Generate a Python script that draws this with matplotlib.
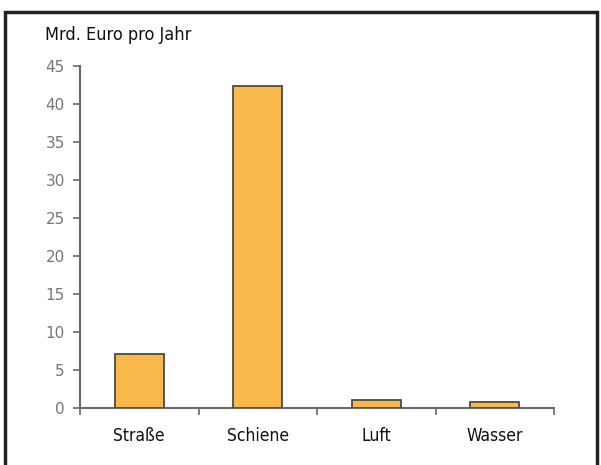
import matplotlib
matplotlib.use("Agg")
import matplotlib.pyplot as plt
from matplotlib.patches import Rectangle
import numpy as np

categories = ["Straße", "Schiene", "Luft", "Wasser"]
values = [7.1, 42.4, 1.0, 0.8]
yticks = [0, 5, 10, 15, 20, 25, 30, 35, 40, 45]
title = "Mrd. Euro pro Jahr"

plt.rcParams['font.family'] = ['DejaVu Sans', 'Liberation Sans']

fig = plt.figure(figsize=(6.01, 4.65), dpi=100)
W, H = 601, 465
ax = fig.add_axes([80 / W, 1 - 408 / H, (554 - 80) / W, (408 - 66) / H])

x = np.arange(len(categories))
ax.bar(x, values, width=0.41, color="#F9B84A", edgecolor="#4a4a4a", linewidth=1.3, zorder=3)
ax.set_xlim(-0.5, len(categories) - 0.5)
ax.set_ylim(0, 45)
ax.set_yticks(yticks)
ax.set_yticklabels([str(v) for v in yticks], color="#777777", fontsize=11)

ax.set_xticks(np.arange(-0.5, len(categories), 1.0))
ax.set_xticklabels([])
ax.set_xticks(x, minor=True)
ax.set_xticklabels(categories, minor=True, fontsize=12.5, color="#111111",
                   fontstretch='condensed')
ax.tick_params(axis="x", which="minor", length=0, pad=14)
ax.tick_params(axis="x", which="major", length=5, width=1.2, color="#6a6a6a", direction="out")
ax.tick_params(axis="y", length=5, width=1.2, color="#6a6a6a", direction="out", pad=6)

for s in ["top", "right"]:
    ax.spines[s].set_visible(False)
for s in ["left", "bottom"]:
    ax.spines[s].set_color("#6a6a6a")
    ax.spines[s].set_linewidth(1.5)

fig.text(45 / W, 1 - 35 / H, title, fontsize=13, color="#111111", va="center", ha="left",
         fontstretch='condensed')

border = Rectangle((5 / W, -0.05), (597 - 5) / W, (1 - 12 / H) + 0.05, transform=fig.transFigure,
                   fill=False, edgecolor="#222222", linewidth=2.5)
fig.patches.append(border)

fig.savefig("out.png", dpi=100)
